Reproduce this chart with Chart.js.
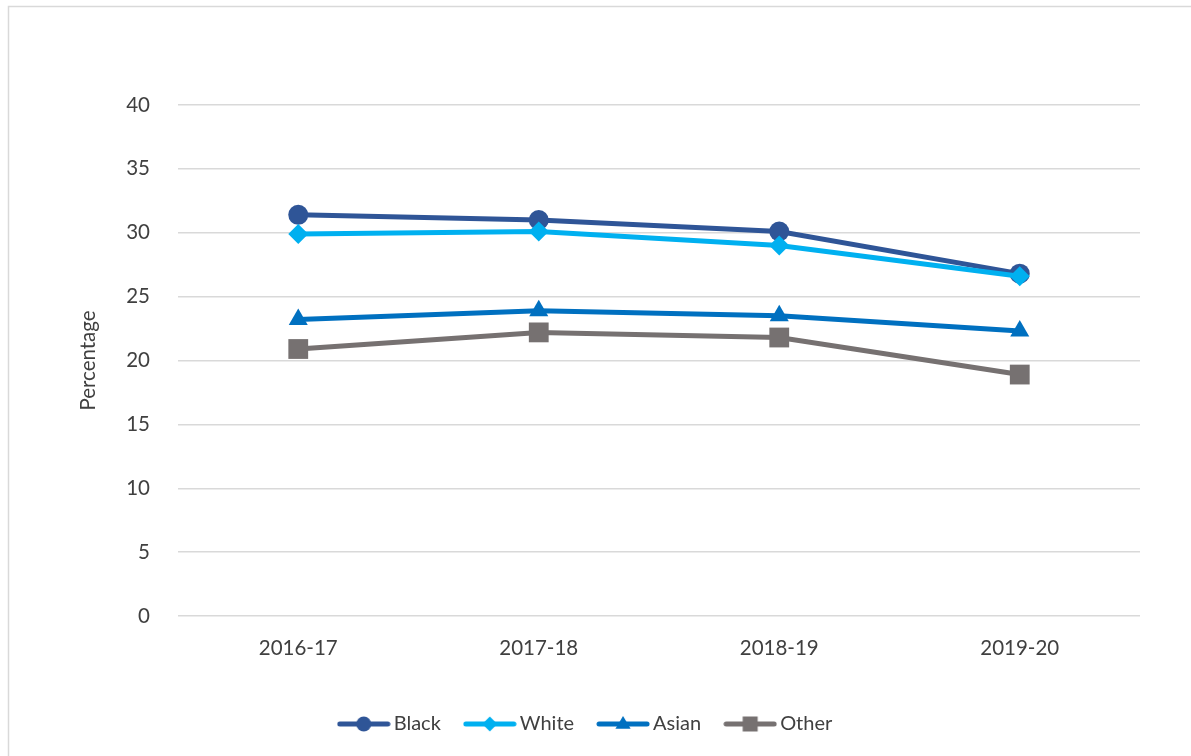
<!DOCTYPE html>
<html>
<head>
<meta charset="utf-8">
<script src="https://cdn.jsdelivr.net/npm/chart.js@4.4.0/dist/chart.umd.min.js"></script>
<style>
  html, body { margin: 0; padding: 0; background: #ffffff; }
  #wrap { position: relative; width: 1191px; height: 756px; }
</style>
</head>
<body>
<div id="wrap"><canvas id="c" width="1191" height="756"></canvas></div>
<script>
const categories = ['2016-17', '2017-18', '2018-19', '2019-20'];
const seriesNames = ['Black', 'White', 'Asian', 'Other'];
const blackValues = [31.4, 31.0, 30.1, 26.8];
const whiteValues = [29.9, 30.1, 29.0, 26.6];
const asianValues = [23.2, 23.9, 23.5, 22.3];
const otherValues = [20.9, 22.2, 21.8, 18.9];
const yTicks = [0, 5, 10, 15, 20, 25, 30, 35, 40];

const FONT = 'Lato, "Open Sans", sans-serif';
const TEXT = '#404040';
const colors = ['#2F5597', '#00B0F0', '#0070C0', '#767171'];
const styles = ['circle', 'rectRot', 'triangle', 'rect'];
const radii = [10, 10, 11, 14];

function drawMarker(ctx, style, x, y, r) {
  ctx.beginPath();
  if (style === 'circle') {
    ctx.arc(x, y, r, 0, Math.PI * 2);
  } else if (style === 'rectRot') {
    ctx.moveTo(x - r, y); ctx.lineTo(x, y - r); ctx.lineTo(x + r, y); ctx.lineTo(x, y + r);
    ctx.closePath();
  } else if (style === 'triangle') {
    const w = r * 0.95, h = r * 1.6;
    ctx.moveTo(x, y - h * 0.62); ctx.lineTo(x + w, y + h * 0.38); ctx.lineTo(x - w, y + h * 0.38);
    ctx.closePath();
  } else {
    ctx.rect(x - r, y - r, 2 * r, 2 * r);
  }
  ctx.fill();
}

function legendImage(i) {
  const cv = document.createElement('canvas');
  cv.width = 54; cv.height = 22;
  const ctx = cv.getContext('2d');
  ctx.strokeStyle = colors[i];
  ctx.fillStyle = colors[i];
  ctx.lineWidth = 5;
  ctx.lineCap = 'round';
  ctx.beginPath(); ctx.moveTo(3, 11); ctx.lineTo(51, 11); ctx.stroke();
  const lr = [7.5, 7.5, 8, 7.5][i];
  drawMarker(ctx, styles[i], 27, 11, lr);
  return cv;
}
const legendImgs = seriesNames.map((n, i) => legendImage(i));

const valueSets = [blackValues, whiteValues, asianValues, otherValues];
const datasets = seriesNames.map((name, i) => ({
  label: name,
  data: valueSets[i],
  borderColor: colors[i],
  backgroundColor: colors[i],
  borderWidth: 5,
  pointStyle: styles[i],
  pointRadius: radii[i],
  pointHoverRadius: radii[i],
  pointBorderWidth: 0,
  pointBackgroundColor: colors[i],
  tension: 0,
  order: 4 - i
}));

const frame = {
  id: 'frame',
  beforeDraw(chart) {
    const ctx = chart.ctx;
    ctx.save();
    ctx.fillStyle = '#ffffff';
    ctx.fillRect(0, 0, chart.width, chart.height);
    ctx.strokeStyle = '#d9d9d9';
    ctx.lineWidth = 1.5;
    ctx.strokeRect(8.5, 6.5, 1240, 800);
    ctx.restore();
  }
};

new Chart(document.getElementById('c'), {
  type: 'line',
  data: { labels: categories, datasets },
  plugins: [frame],
  options: {
    responsive: false,
    animation: false,
    devicePixelRatio: 1,
    layout: { padding: { top: 105, right: 51, bottom: 12, left: 36 } },
    plugins: {
      tooltip: { enabled: false },
      legend: {
        position: 'bottom',
        labels: {
          usePointStyle: true,
          pointStyleWidth: 40,
          boxHeight: 20,
          padding: 29,
          color: TEXT,
          font: { family: FONT, size: 20 },
          generateLabels(chart) {
            return chart.data.datasets.map((ds, i) => ({
              text: ds.label,
              fillStyle: colors[i],
              strokeStyle: colors[i],
              lineWidth: 0,
              pointStyle: legendImgs[i],
              fontColor: TEXT,
              hidden: false,
              datasetIndex: i
            }));
          }
        }
      }
    },
    scales: {
      x: {
        offset: true,
        grid: { display: false, drawTicks: false },
        border: { display: false },
        ticks: { color: TEXT, font: { family: FONT, size: 20.5 }, padding: 20, maxRotation: 0 },
        afterFit(scale) { scale.height = 69; }
      },
      y: {
        min: 0,
        max: 40,
        afterBuildTicks(scale) { scale.ticks = yTicks.map(v => ({ value: v })); },
        grid: { color: '#d9d9d9', lineWidth: 1.5, drawTicks: false },
        border: { display: false },
        ticks: { color: TEXT, font: { family: FONT, size: 20.5 }, padding: 28 },
        title: {
          display: true,
          text: 'Percentage',
          color: TEXT,
          font: { family: FONT, size: 20.5 },
          padding: { top: 40, bottom: 0 }
        },
        afterFit(scale) { scale.width = 142; }
      }
    }
  }
});
</script>
</body>
</html>
